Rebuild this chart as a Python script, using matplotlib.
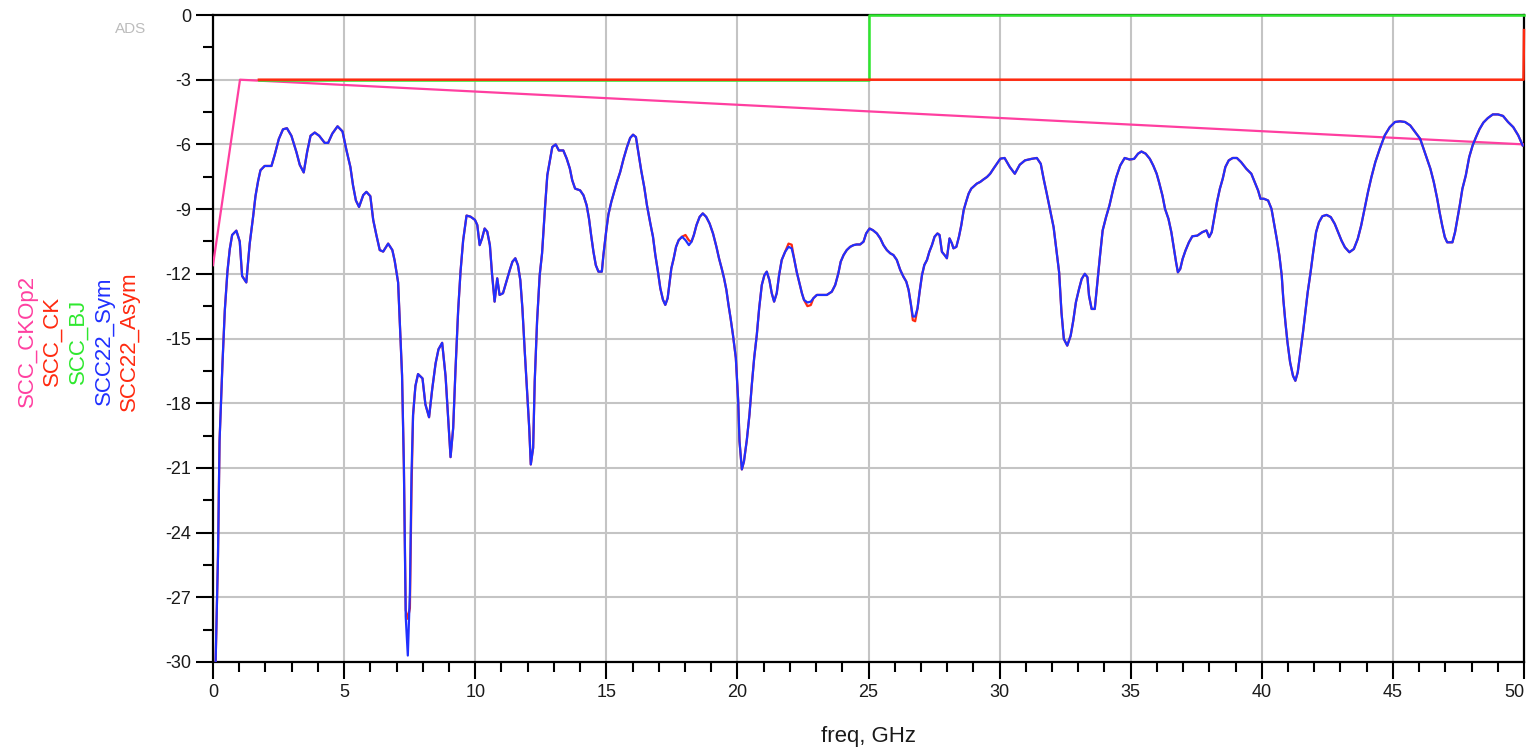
import matplotlib
matplotlib.use("Agg")
import matplotlib.pyplot as plt
from matplotlib.ticker import MultipleLocator

plt.rcParams['font.family'] = ['Liberation Sans', 'DejaVu Sans']
plt.rcParams['axes.unicode_minus'] = False

# SCC22 sweep, GHz / dB
freq = [
    0.10, 0.19, 0.25, 0.36, 0.45, 0.55, 0.64, 0.73, 0.89, 1.02, 1.11, 1.27, 1.40, 1.53, 1.62,
    1.72, 1.81, 1.97, 2.23, 2.35, 2.51, 2.67, 2.82, 2.99, 3.18, 3.31, 3.46, 3.59, 3.72, 3.88,
    4.05, 4.26, 4.39, 4.55, 4.75, 4.94, 5.09, 5.24, 5.34, 5.45, 5.57, 5.73, 5.85, 6.00, 6.11,
    6.23, 6.36, 6.49, 6.68, 6.84, 6.93, 7.06, 7.12, 7.21, 7.28, 7.35, 7.43, 7.51, 7.57, 7.63,
    7.72, 7.82, 7.99, 8.10, 8.24, 8.36, 8.49, 8.60, 8.74, 8.87, 8.97, 9.06, 9.16, 9.25, 9.35,
    9.44, 9.54, 9.67, 9.82, 9.99, 10.08, 10.17, 10.26, 10.36, 10.46, 10.56, 10.64, 10.74, 10.84,
    10.93, 11.06, 11.19, 11.32, 11.42, 11.53, 11.63, 11.72, 11.80, 11.89, 11.98, 12.06, 12.12,
    12.21, 12.27, 12.36, 12.46, 12.55, 12.66, 12.75, 12.85, 12.94, 13.07, 13.19, 13.36, 13.49,
    13.61, 13.70, 13.81, 14.00, 14.13, 14.25, 14.34, 14.42, 14.51, 14.60, 14.70, 14.83, 14.89,
    15.00, 15.08, 15.19, 15.30, 15.40, 15.53, 15.66, 15.79, 15.91, 16.02, 16.13, 16.23, 16.33,
    16.45, 16.55, 16.68, 16.78, 16.87, 16.97, 17.06, 17.16, 17.25, 17.34, 17.42, 17.48, 17.57,
    17.66, 17.76, 17.89, 18.02, 18.15, 18.25, 18.34, 18.44, 18.56, 18.68, 18.81, 18.94, 19.07,
    19.20, 19.30, 19.40, 19.49, 19.58, 19.66, 19.74, 19.83, 19.94, 20.03, 20.08, 20.17, 20.25,
    20.36, 20.46, 20.55, 20.64, 20.74, 20.83, 20.93, 21.03, 21.12, 21.22, 21.31, 21.40, 21.50,
    21.59, 21.69, 21.82, 21.95, 22.07, 22.16, 22.26, 22.35, 22.46, 22.54, 22.67, 22.80, 22.90,
    23.03, 23.22, 23.41, 23.60, 23.73, 23.85, 23.94, 24.05, 24.17, 24.30, 24.43, 24.55, 24.68,
    24.81, 24.91, 25.04, 25.17, 25.32, 25.45, 25.57, 25.70, 25.83, 25.95, 26.08, 26.21, 26.33,
    26.44, 26.53, 26.62, 26.69, 26.78, 26.87, 26.95, 27.04, 27.13, 27.23, 27.32, 27.42, 27.52,
    27.63, 27.71, 27.80, 27.90, 27.99, 28.09, 28.18, 28.24, 28.35, 28.45, 28.54, 28.63, 28.72,
    28.82, 28.92, 29.03, 29.13, 29.26, 29.39, 29.52, 29.64, 29.77, 29.90, 30.03, 30.19, 30.39,
    30.58, 30.77, 30.97, 31.22, 31.42, 31.57, 31.68, 31.80, 31.93, 32.06, 32.16, 32.27, 32.36,
    32.45, 32.58, 32.71, 32.81, 32.91, 33.03, 33.13, 33.25, 33.35, 33.41, 33.51, 33.63, 33.74,
    33.83, 33.93, 34.06, 34.19, 34.32, 34.45, 34.60, 34.77, 34.96, 35.13, 35.28, 35.41, 35.57,
    35.73, 35.86, 35.99, 36.08, 36.21, 36.31, 36.44, 36.55, 36.64, 36.73, 36.80, 36.89, 36.98,
    37.09, 37.22, 37.35, 37.54, 37.73, 37.89, 37.99, 38.09, 38.18, 38.29, 38.40, 38.51, 38.61,
    38.74, 38.89, 39.05, 39.21, 39.41, 39.60, 39.73, 39.86, 39.95, 40.08, 40.24, 40.37, 40.46,
    40.57, 40.67, 40.76, 40.82, 40.90, 40.98, 41.08, 41.19, 41.28, 41.37, 41.47, 41.57, 41.66,
    41.75, 41.86, 41.96, 42.07, 42.18, 42.31, 42.47, 42.63, 42.78, 42.91, 43.04, 43.17, 43.34,
    43.51, 43.66, 43.79, 43.92, 44.05, 44.18, 44.33, 44.50, 44.69, 44.88, 45.08, 45.27, 45.46,
    45.66, 45.85, 46.04, 46.17, 46.30, 46.43, 46.56, 46.69, 46.78, 46.88, 46.98, 47.07, 47.27,
    47.37, 47.46, 47.55, 47.65, 47.78, 47.91, 48.04, 48.17, 48.30, 48.45, 48.62, 48.81, 49.01,
    49.20, 49.39, 49.59, 49.78, 49.95,
]

sym_db = [
    -30.0, -25.1, -19.75, -16.2, -13.7, -11.9, -10.85, -10.2, -10.0, -10.5, -12.1, -12.4, -10.6,
    -9.35, -8.4, -7.7, -7.2, -7.0, -7.0, -6.5, -5.75, -5.3, -5.25, -5.6, -6.35, -6.95, -7.3,
    -6.35, -5.6, -5.45, -5.6, -5.93, -5.93, -5.5, -5.16, -5.4, -6.27, -7.05, -7.9, -8.6, -8.9,
    -8.35, -8.2, -8.4, -9.5, -10.2, -10.9, -10.97, -10.6, -10.9, -11.4, -12.4, -14.1, -16.7,
    -20.9, -27.9, -29.7, -26.75, -21.3, -18.55, -17.2, -16.65, -16.85, -18.05, -18.65, -17.35,
    -16.15, -15.5, -15.2, -16.75, -18.7, -20.5, -19.15, -16.4, -13.7, -11.9, -10.45, -9.3,
    -9.35, -9.5, -9.74, -10.67, -10.36, -9.9, -10.05, -10.67, -11.98, -13.29, -12.21, -12.98,
    -12.9, -12.36, -11.82, -11.44, -11.28, -11.6, -12.29, -13.6, -15.6, -17.45, -19.14, -20.84,
    -20.07, -16.99, -14.2, -12.06, -11.05, -8.97, -7.43, -6.74, -6.12, -6.0, -6.28, -6.28,
    -6.66, -7.12, -7.66, -8.05, -8.13, -8.36, -8.82, -9.44, -10.2, -10.98, -11.6, -11.9, -11.9,
    -11.13, -9.98, -9.25, -8.67, -8.2, -7.77, -7.28, -6.66, -6.12, -5.7, -5.55, -5.66, -6.43,
    -7.2, -8.0, -8.82, -9.67, -10.28, -11.13, -11.9, -12.67, -13.2, -13.44, -13.13, -12.36,
    -11.75, -11.29, -10.75, -10.44, -10.28, -10.44, -10.67, -10.51, -10.2, -9.74, -9.36, -9.2,
    -9.36, -9.67, -10.13, -10.75, -11.29, -11.75, -12.2, -12.75, -13.44, -14.06, -14.83, -15.9,
    -17.9, -19.76, -21.07, -20.7, -19.7, -18.53, -17.14, -15.9, -14.83, -13.6, -12.52, -12.06,
    -11.9, -12.29, -12.9, -13.29, -12.9, -12.06, -11.36, -10.98, -10.75, -10.82, -11.28, -11.9,
    -12.36, -12.9, -13.21, -13.33, -13.29, -13.13, -12.98, -12.98, -12.98, -12.83, -12.52,
    -11.98, -11.44, -11.13, -10.9, -10.75, -10.67, -10.64, -10.64, -10.51, -10.13, -9.9, -9.98,
    -10.13, -10.36, -10.67, -10.9, -11.05, -11.13, -11.36, -11.82, -12.13, -12.36, -12.75,
    -13.44, -13.98, -13.98, -13.6, -12.83, -12.06, -11.59, -11.36, -10.98, -10.67, -10.28,
    -10.13, -10.2, -10.98, -11.13, -11.28, -10.36, -10.59, -10.82, -10.75, -10.28, -9.74, -9.05,
    -8.67, -8.28, -8.05, -7.93, -7.82, -7.74, -7.62, -7.51, -7.36, -7.12, -6.89, -6.66, -6.63,
    -7.05, -7.36, -6.94, -6.74, -6.67, -6.63, -6.9, -7.6, -8.29, -9.07, -9.84, -10.85, -11.93,
    -13.79, -15.02, -15.33, -14.87, -14.17, -13.32, -12.7, -12.24, -12.0, -12.16, -13.01,
    -13.63, -13.63, -12.24, -11.15, -9.99, -9.37, -8.83, -8.14, -7.52, -6.98, -6.63, -6.7,
    -6.67, -6.43, -6.33, -6.43, -6.67, -6.98, -7.36, -7.75, -8.37, -8.99, -9.45, -10.07,
    -10.77, -11.46, -11.93, -11.77, -11.31, -10.92, -10.54, -10.26, -10.23, -10.07, -9.99,
    -10.3, -10.07, -9.45, -8.68, -8.06, -7.59, -7.05, -6.74, -6.63, -6.63, -6.82, -7.13, -7.36,
    -7.75, -8.14, -8.52, -8.52, -8.6, -8.99, -9.61, -10.38, -11.15, -12.08, -13.17, -14.25,
    -15.18, -16.11, -16.73, -16.96, -16.57, -15.64, -14.72, -13.79, -12.86, -11.93, -11.0,
    -10.07, -9.61, -9.33, -9.27, -9.37, -9.68, -10.07, -10.46, -10.77, -11.0, -10.85, -10.38,
    -9.76, -8.99, -8.21, -7.52, -6.82, -6.2, -5.58, -5.2, -4.96, -4.93, -4.96, -5.12, -5.43,
    -5.74, -6.2, -6.67, -7.13, -7.75, -8.52, -9.14, -9.76, -10.3, -10.54, -10.54, -10.07,
    -9.45, -8.83, -8.06, -7.44, -6.59, -6.05, -5.66, -5.3, -4.99, -4.78, -4.61, -4.61, -4.68,
    -4.96, -5.2, -5.58, -6.05,
]

# points where the asymmetric case departs from the symmetric one
asym_diff = {7.35: -27.6, 7.43: -28.0, 7.51: -27.5, 7.57: -22.1, 18.02: -10.2, 18.15: -10.45,
             21.95: -10.6, 22.07: -10.65, 22.67: -13.5, 22.80: -13.45, 26.69: -14.15, 26.78: -14.2}

ckop2_freq = [0.0, 1.03, 50.0]
ckop2_db = [-11.6, -3.0, -6.0]
ck_freq = [1.75, 49.98, 50.0]
ck_db = [-3.0, -3.0, -0.7]
bj_freq = [1.75, 25.0, 25.0, 50.0]
bj_db = [-3.0, -3.0, 0.0, 0.0]

x_ticks = list(range(0, 51, 5))
y_ticks = list(range(-30, 1, 3))

asym_db = list(sym_db)
for f, v in asym_diff.items():
    asym_db[freq.index(f)] = v

PINK = '#ff3fa0'
RED = '#ff2a10'
GREEN = '#2ee82e'
BLUE = '#2030ff'

fig = plt.figure(figsize=(15.29, 7.47), dpi=100)
ax = fig.add_axes([213 / 1529, 85 / 747, 1311 / 1529, 647 / 747])

ax.plot(ckop2_freq, ckop2_db, color=PINK, lw=1.6, zorder=3)
ax.plot(freq, asym_db, color=RED, lw=1.6, zorder=4)
ax.plot(freq, sym_db, color=BLUE, lw=1.6, zorder=5)
ax.plot(bj_freq, bj_db, color=GREEN, lw=1.8, zorder=6, clip_on=False)
ax.plot(ck_freq, ck_db, color=RED, lw=1.8, zorder=7, clip_on=False)

ax.set_xticks(x_ticks, [str(v) for v in x_ticks])
ax.set_yticks(y_ticks, [str(v) for v in y_ticks])
ax.xaxis.set_minor_locator(MultipleLocator(1))
ax.yaxis.set_minor_locator(MultipleLocator(1.5))
ax.set_xlim(0, 50)
ax.set_ylim(-30, 0)
ax.grid(True, which='major', color='#c4c4c4', lw=1.5)
ax.set_axisbelow(True)

for sp in ax.spines.values():
    sp.set_linewidth(1.6)
    sp.set_color('black')

ax.tick_params(which='major', direction='out', length=12.5, width=1.5,
               labelsize=13, labelcolor='#1a1a1a', pad=3)
ax.tick_params(which='minor', direction='out', length=7, width=1.5)
# keep the last frequency label inside the figure
ax.get_xticklabels()[-1].set_horizontalalignment('right')

ax.set_xlabel('freq, GHz', fontsize=16, color='#1a1a1a', labelpad=18)

# trace names, rotated, along the left edge
names = ['SCC_CKOp2', 'SCC_CK', 'SCC_BJ', 'SCC22_Sym', 'SCC22_Asym']
name_colors = [PINK, RED, GREEN, BLUE, RED]
name_x = [33, 58, 84, 110, 135]
for name, c, x in zip(names, name_colors, name_x):
    fig.text(x / 1529, 1 - 341 / 747, name, color=c, fontsize=16, rotation=90,
             rotation_mode='anchor', ha='center', va='baseline')

fig.text(131 / 1529, 1 - 29 / 747, 'ADS', color='#bcbcbc', fontsize=11,
         ha='center', va='center')

fig.savefig('out.png', dpi=100)
